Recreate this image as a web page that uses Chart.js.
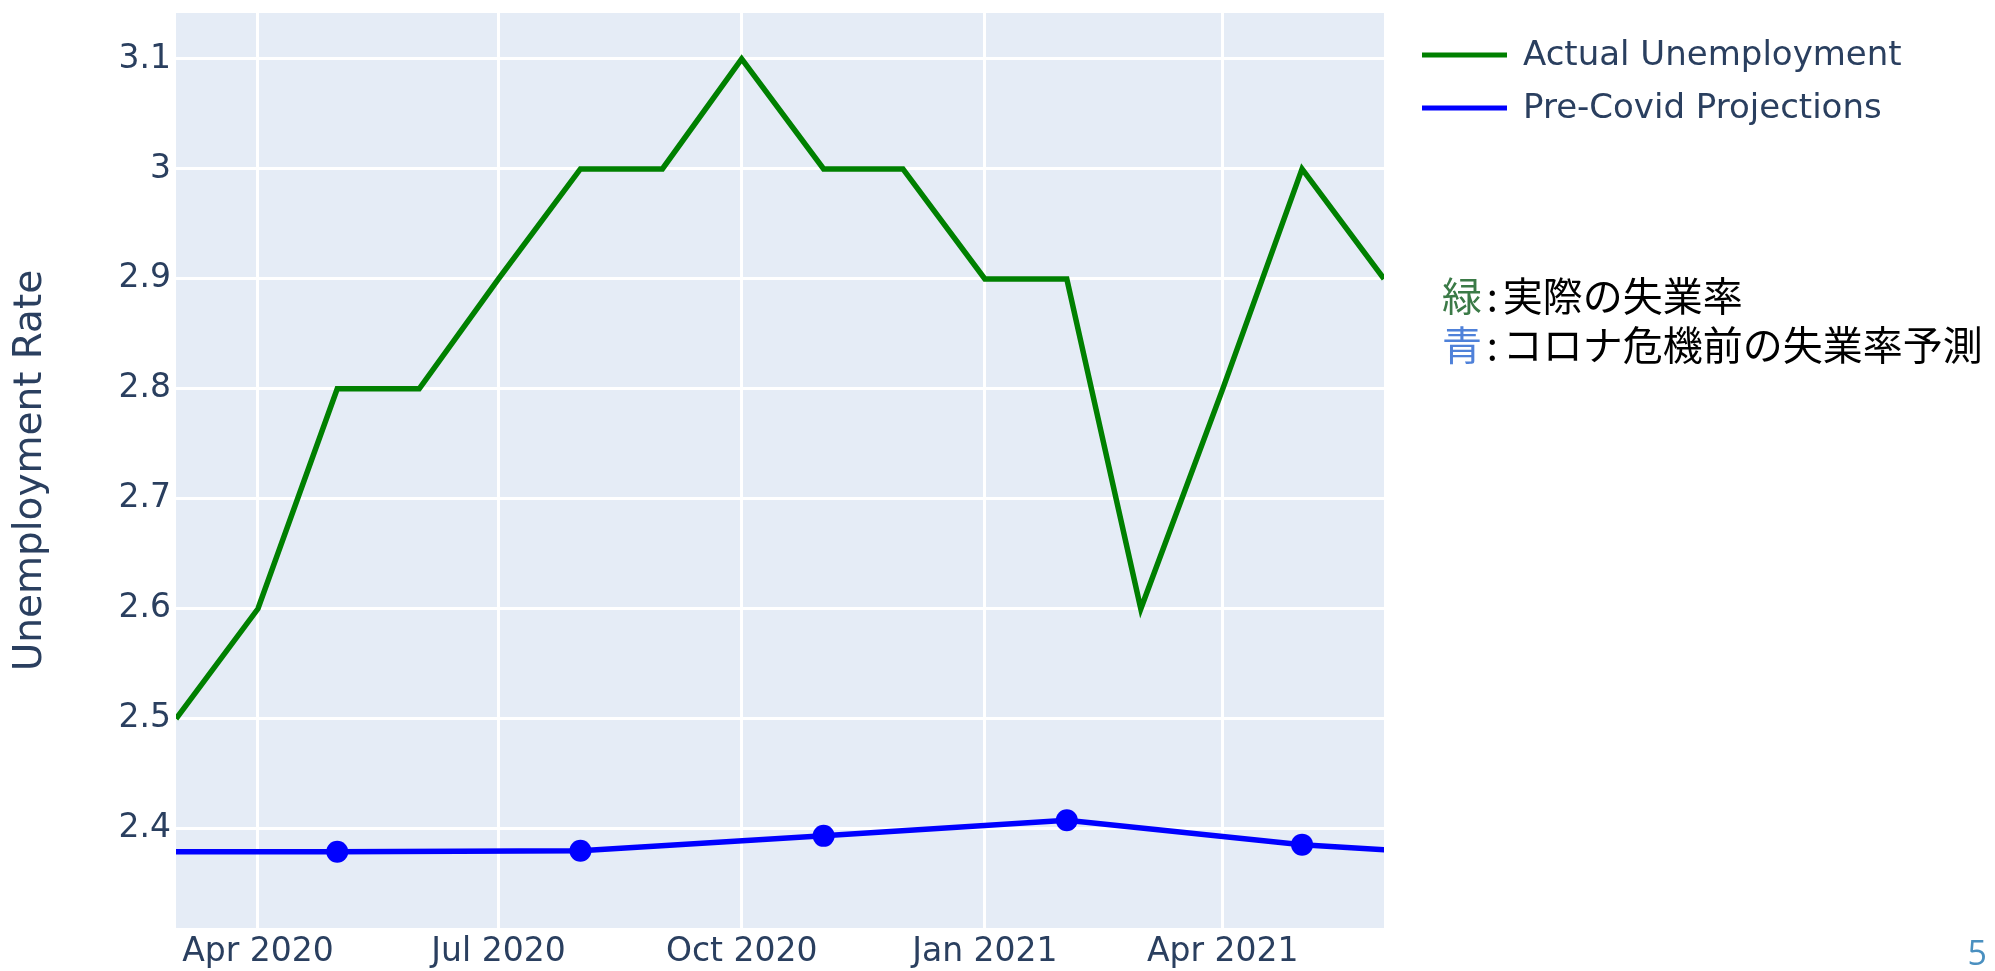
<!DOCTYPE html>
<html lang="ja">
<head>
<meta charset="utf-8">
<title>Unemployment Rate</title>
<script src="https://cdn.jsdelivr.net/npm/chart.js@4.4.1/dist/chart.umd.min.js"></script>
<style>
  html, body { margin: 0; padding: 0; background: #ffffff; }
  #wrap { position: absolute; left: 0; top: 0; width: 1995px; height: 971px; }
  #note {
    position: absolute; left: 1442px; top: 270px;
    font-family: "Noto Sans CJK JP", sans-serif; font-size: 40px; line-height: 49px;
    color: #000; white-space: nowrap;
  }
  #note .colon { display: inline-block; width: 0.52em; text-align: center; }
  #note .green { color: #3b7a47; }
  #note .blue { color: #4f81d9; }
  #page {
    position: absolute; right: 8px; top: 935px;
    font-family: "Open Sans", sans-serif; font-size: 34px; line-height: 34px; color: #4a90c0;
  }
</style>
</head>
<body>
<div id="wrap"><canvas id="rateChart"></canvas></div>
<div id="note">
  <div><span class="green">緑</span><span class="colon">:</span>実際の失業率</div>
  <div><span class="blue">青</span><span class="colon">:</span>コロナ危機前の失業率予測</div>
</div>
<div id="page">5</div>

<script>
// monthly actual unemployment rate
const actualMonths = ['2020-03', '2020-04', '2020-05', '2020-06', '2020-07', '2020-08', '2020-09', '2020-10',
                      '2020-11', '2020-12', '2021-01', '2021-02', '2021-03', '2021-04', '2021-05', '2021-06'];
const actualRate = [2.5, 2.6, 2.8, 2.8, 2.9, 3.0, 3.0, 3.1, 3.0, 3.0, 2.9, 2.9, 2.6, 2.8, 3.0, 2.9];

// quarterly pre-covid projections (first and last run off the plot edges)
const projMonths = ['2020-02', '2020-05', '2020-08', '2020-11', '2021-02', '2021-05', '2021-08'];
const projRate = [2.379, 2.379, 2.38, 2.3935, 2.4076, 2.3855, 2.372];

// axis ticks
const xTickDates = ['2020-04', '2020-07', '2020-10', '2021-01', '2021-04'];
const xTickLabels = ['Apr 2020', 'Jul 2020', 'Oct 2020', 'Jan 2021', 'Apr 2021'];
const yTicks = [2.4, 2.5, 2.6, 2.7, 2.8, 2.9, 3.0, 3.1];

const xStart = '2020-03';
const xEnd = '2021-06';

// month string -> day number
function toDay(m) {
    const parts = m.split('-');
    return Date.UTC(+parts[0], +parts[1] - 1, 1) / 86400000;
}

const tickColor = '#2a3f5f';
const axisFont = "'DejaVu Sans', Verdana, sans-serif";

// fills the plot area like plotly's default template
const plotBackground = {
    id: 'plotBackground',
    beforeDraw(chart) {
        const { ctx, chartArea } = chart;
        ctx.save();
        ctx.fillStyle = '#e5ecf6';
        ctx.fillRect(chartArea.left, chartArea.top, chartArea.right - chartArea.left, chartArea.bottom - chartArea.top);
        ctx.restore();
    }
};

// legend drawn to the right of the plot area
const sideLegend = {
    id: 'sideLegend',
    afterDraw(chart) {
        const { ctx, chartArea } = chart;
        const x0 = chartArea.right + 38;
        ctx.save();
        chart.data.datasets.forEach((ds, i) => {
            const y = 55 + i * 53;
            ctx.strokeStyle = ds.borderColor;
            ctx.lineWidth = 5;
            ctx.beginPath();
            ctx.moveTo(x0, y);
            ctx.lineTo(x0 + 85, y);
            ctx.stroke();
            ctx.fillStyle = tickColor;
            ctx.font = '34px ' + axisFont;
            ctx.textAlign = 'left';
            ctx.textBaseline = 'middle';
            ctx.fillText(ds.label, x0 + 101, y + 1);
        });
        ctx.restore();
    }
};

const config = {
    type: 'line',
    data: {
        datasets: [
            {
                label: 'Actual Unemployment',
                data: actualMonths.map((m, i) => ({ x: toDay(m), y: actualRate[i] })),
                borderColor: '#008000',
                backgroundColor: '#008000',
                borderWidth: 5.5,
                pointRadius: 0,
                tension: 0,
                clip: 0
            },
            {
                label: 'Pre-Covid Projections',
                data: projMonths.map((m, i) => ({ x: toDay(m), y: projRate[i] })),
                borderColor: '#0000ff',
                backgroundColor: '#0000ff',
                borderWidth: 5.5,
                pointRadius: 11,
                pointBorderWidth: 0,
                pointBackgroundColor: '#0000ff',
                tension: 0,
                clip: 0
            }
        ]
    },
    options: {
        responsive: true,
        maintainAspectRatio: false,
        animation: false,
        layout: {
            padding: { top: 13, right: 611, bottom: 0, left: 0 }
        },
        plugins: {
            legend: { display: false },
            tooltip: { enabled: false }
        },
        scales: {
            x: {
                type: 'linear',
                min: toDay(xStart),
                max: toDay(xEnd),
                afterFit(scale) {
                    scale.height = 43;
                    scale.paddingLeft = 0;
                    scale.paddingRight = 0;
                },
                afterBuildTicks(scale) {
                    scale.ticks = xTickDates.map(d => ({ value: toDay(d) }));
                },
                border: { display: false },
                grid: { color: '#ffffff', lineWidth: 3, drawTicks: false },
                ticks: {
                    padding: 5,
                    maxRotation: 0,
                    autoSkip: false,
                    color: tickColor,
                    font: { size: 33, family: axisFont },
                    callback(value) {
                        const idx = xTickDates.findIndex(d => toDay(d) === value);
                        return idx >= 0 ? xTickLabels[idx] : '';
                    }
                }
            },
            y: {
                type: 'linear',
                min: 2.3097,
                max: 3.1418,
                afterFit(scale) {
                    scale.width = 176;
                    scale.paddingTop = 0;
                    scale.paddingBottom = 0;
                },
                afterBuildTicks(scale) {
                    scale.ticks = yTicks.map(v => ({ value: v }));
                },
                border: { display: false },
                grid: { color: '#ffffff', lineWidth: 3, drawTicks: false },
                ticks: {
                    padding: 5,
                    color: tickColor,
                    font: { size: 33, family: axisFont },
                    callback(value) {
                        return String(Math.round(value * 10) / 10);
                    }
                },
                title: {
                    display: true,
                    text: 'Unemployment Rate',
                    color: tickColor,
                    font: { size: 39, family: axisFont },
                    padding: { top: 7, bottom: 0 }
                }
            }
        }
    },
    plugins: [plotBackground, sideLegend]
};

new Chart(document.getElementById('rateChart'), config);
</script>
</body>
</html>
